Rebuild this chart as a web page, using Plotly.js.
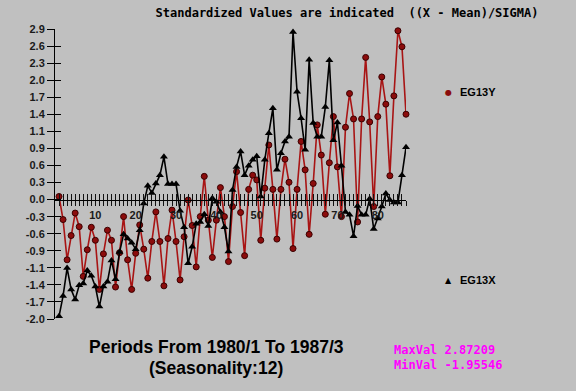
<!DOCTYPE html>
<html>
<head>
<meta charset="utf-8">
<script src="https://cdn.plot.ly/plotly-3.0.1.min.js"></script>
<style>html,body{margin:0;padding:0;background:#c0c0c0;}#chart{width:576px;height:391px;}</style>
</head>
<body>
<div id="chart"></div>
<script>
const periods = [1,2,3,4,5,6,7,8,9,10,11,12,13,14,15,16,17,18,19,20,21,22,23,24,25,26,27,28,29,30,
  31,32,33,34,35,36,37,38,39,40,41,42,43,44,45,46,47,48,49,50,51,52,53,54,55,56,57,58,59,60,
  61,62,63,64,65,66,67,68,69,70,71,72,73,74,75,76,77,78,79,80,81,82,83,84,85,86,87];

const eg13y = [0.07,-0.32,-1.00,-0.59,-0.21,-0.44,-1.28,-0.83,-0.45,-0.67,
  -1.50,-0.90,-0.50,-0.67,-1.46,-0.88,-0.27,-1.00,-1.50,-0.89,
  -0.41,-0.82,-1.31,-0.69,-0.19,-0.69,-1.44,-0.64,-0.16,-0.69,
  -1.34,-0.61,0.01,-0.42,-1.12,-0.27,0.41,-0.33,-0.96,-0.33,
  0.22,-0.27,-1.03,-0.10,0.49,-0.20,-0.93,0.19,0.43,0.35,
  -0.67,0.21,0.94,0.19,-0.65,0.19,0.70,0.31,-0.81,0.19,
  1.00,0.52,-0.57,0.29,1.28,0.77,-0.23,0.64,1.42,0.57,
  -0.27,1.24,1.81,1.38,-0.36,1.38,2.42,1.33,-0.10,1.42,
  2.09,1.63,0.42,1.77,2.87,2.60,1.46];

const eg13x = [-1.955,-1.61,-1.14,-1.50,-1.67,-1.43,-1.40,-1.18,-1.27,-1.45,
  -1.79,-1.45,-1.37,-1.01,-1.33,-0.87,-0.57,-0.64,-0.71,-0.82,
  -0.50,-0.05,0.25,0.13,0.29,0.43,0.74,0.28,0.28,0.28,
  -0.17,-0.45,-1.06,-0.78,-0.39,-0.36,-0.23,-0.43,0.04,-0.02,
  -0.19,-0.45,-0.86,0.18,0.57,0.83,0.43,0.59,0.69,0.75,
  0.07,0.69,1.14,1.56,0.52,0.80,1.00,1.08,2.85,1.84,
  1.39,0.86,2.38,1.31,1.08,1.08,1.58,2.37,1.02,1.32,
  0.59,-0.19,-0.24,-0.60,-0.09,-0.24,-0.24,0.03,-0.48,-0.30,
  -0.10,0.12,0.01,-0.03,-0.03,0.43,0.90];

const yTickText = ['-2.0','-1.7','-1.4','-1.1','-0.9','-0.6','-0.3','0.0','0.3','0.6','0.9','1.1','1.4','1.7','2.0','2.3','2.6','2.9'];
const xTickLabels = [10,20,30,40,50,60,70,80];
const seriesNames = ['EG13Y','EG13X'];
const statsText = ['MaxVal 2.87209','MinVal -1.95546'];

const Y_MIN = -2.0, Y_MAX = 2.9;
const yTickVals = yTickText.map((t,k)=> Y_MIN + k*(Y_MAX-Y_MIN)/(yTickText.length-1));
const zeroPos = yTickText.indexOf('0.0')/(yTickText.length-1);

// pixel -> paper helpers (plot area: x 55..406, y 29..319)
const L=55, R=170, T=29, B=72, W=576, H=391;
const pw = W-L-R, ph = H-T-B;
const px = x => (x-L)/pw;
const py = y => (H-B-y)/ph;

const tickFont = {family:'Liberation Sans, Arial, sans-serif', size:11, weight:'bold', color:'#1a1a1a'};

const traces = [
  {x:periods, y:eg13y, name:seriesNames[0], type:'scatter', mode:'lines+markers', cliponaxis:false,
   line:{color:'#a81414', width:1.6},
   marker:{symbol:'circle', size:6, color:'#8b0c0c', line:{color:'#3a0000', width:1}}},
  {x:periods, y:eg13x, name:seriesNames[1], type:'scatter', mode:'lines+markers', cliponaxis:false,
   line:{color:'#000000', width:1.6},
   marker:{symbol:'triangle-up', size:7, color:'#000000'}},
  {x:[null], y:[null], xaxis:'x2', yaxis:'y2', type:'scatter', mode:'markers', hoverinfo:'skip', showlegend:false}
];

const layout = {
  width:W, height:H,
  paper_bgcolor:'#c0c0c0', plot_bgcolor:'#c0c0c0',
  margin:{l:L, r:R, t:T, b:B, pad:0},
  showlegend:false,
  title:{text:'Standardized Values are indicated  ((X - Mean)/SIGMA)',
    font:{family:'DejaVu Sans Mono, monospace', size:12, weight:'bold', color:'#000'},
    xref:'container', yref:'container', x:347/W, xanchor:'center', y:1-13/H, yanchor:'middle'},
  xaxis:{range:[0,87], tickmode:'array', tickvals:periods,
    ticktext:periods.map(p=> xTickLabels.includes(p) ? String(p) : ''),
    ticks:'outside', ticklen:5, tickwidth:1, tickcolor:'#111',
    showline:true, linecolor:'#000', linewidth:1, showgrid:false, zeroline:false,
    anchor:'free', position:zeroPos, tickfont:tickFont, tickangle:0},
  xaxis2:{overlaying:'x', range:[0,87], tickmode:'array', tickvals:periods,
    ticks:'inside', ticklen:6, tickwidth:1, tickcolor:'#111',
    showticklabels:false, showline:false, showgrid:false, zeroline:false,
    anchor:'free', position:zeroPos},
  yaxis:{range:[Y_MIN,Y_MAX], tickmode:'array', tickvals:yTickVals, ticktext:yTickText,
    ticks:'outside', ticklen:7, tickwidth:1, tickcolor:'#000',
    showline:true, linecolor:'#000', linewidth:1, showgrid:false, zeroline:false,
    tickfont:tickFont},
  yaxis2:{overlaying:'y', range:[Y_MIN,Y_MAX], tickmode:'array', tickvals:yTickVals,
    ticks:'inside', ticklen:6, tickwidth:1, tickcolor:'#000',
    showticklabels:false, showline:false, showgrid:false, zeroline:false, anchor:'x'},
  annotations:[
    {xref:'paper', yref:'paper', x:px(448), y:py(92), text:'●', showarrow:false,
     xanchor:'center', yanchor:'middle', font:{family:'DejaVu Sans', size:8, color:'#8b0c0c'}},
    {xref:'paper', yref:'paper', x:px(458), y:py(92), text:seriesNames[0], showarrow:false,
     xanchor:'left', yanchor:'middle', font:{family:'Liberation Sans, Arial, sans-serif', size:11, weight:'bold', color:'#000'}},
    {xref:'paper', yref:'paper', x:px(448), y:py(280), text:'▲', showarrow:false,
     xanchor:'center', yanchor:'middle', font:{family:'DejaVu Sans', size:8, color:'#000'}},
    {xref:'paper', yref:'paper', x:px(458), y:py(280), text:seriesNames[1], showarrow:false,
     xanchor:'left', yanchor:'middle', font:{family:'Liberation Sans, Arial, sans-serif', size:11, weight:'bold', color:'#000'}},
    {xref:'paper', yref:'paper', x:px(216), y:py(347), text:'<b>Periods From 1980/1 To 1987/3</b>', showarrow:false,
     xanchor:'center', yanchor:'middle', font:{family:'Liberation Sans, Arial, sans-serif', size:17.5, color:'#000'}},
    {xref:'paper', yref:'paper', x:px(216), y:py(368), text:'<b>(Seasonality:12)</b>', showarrow:false,
     xanchor:'center', yanchor:'middle', font:{family:'Liberation Sans, Arial, sans-serif', size:17.5, color:'#000'}},
    {xref:'paper', yref:'paper', x:px(392), y:py(350), text:statsText[0], showarrow:false,
     xanchor:'left', yanchor:'middle', font:{family:'DejaVu Sans Mono, monospace', size:12, weight:'bold', color:'#ff00ff'}},
    {xref:'paper', yref:'paper', x:px(392), y:py(365), text:statsText[1], showarrow:false,
     xanchor:'left', yanchor:'middle', font:{family:'DejaVu Sans Mono, monospace', size:12, weight:'bold', color:'#ff00ff'}}
  ]
};

Plotly.newPlot('chart', traces, layout, {staticPlot:true, displayModeBar:false});
</script>
</body>
</html>
